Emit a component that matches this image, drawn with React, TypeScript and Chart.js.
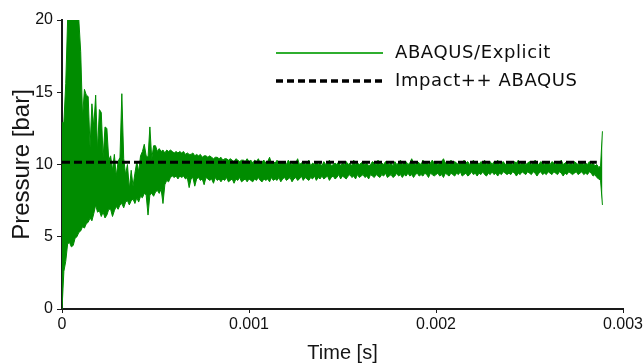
import React, { useEffect, useRef } from 'react';
import { Chart, registerables } from 'chart.js';

Chart.register(...registerables);

// sampling step of the ABAQUS/Explicit signal (s)
const timeStep = 0.00001;

// upper envelope of ABAQUS/Explicit pressure per sample bin [bar]
const explicitUpper = [
  12.9, 12.9, 15.6, 20, 20, 20, 20, 20, 20, 20,
  17.8, 13.3, 15.2, 14.8, 14.7, 11.2, 14.2, 12.6, 14.8, 11.0,
  13.8, 13.6, 10.5, 12.6, 12.5, 10.3, 10.6, 9.6, 10.7, 9.2,
  10.2, 10.5, 14.9, 10.4, 9.3, 10.0, 8.3, 9.6, 8.5, 9.4,
  10.2, 9.5, 10.6, 10.9, 11.4, 10.6, 10.5, 12.6, 10.4, 11.3,
  11.3, 10.9, 11.1, 10.9, 11.0, 10.8, 11.0, 10.9, 11.0, 10.9,
  10.8, 10.9, 10.8, 10.9, 10.8, 10.9, 10.7, 10.8, 10.7, 10.7,
  10.8, 10.6, 10.7, 10.6, 10.7, 10.5, 10.6, 10.6, 10.5, 10.6,
  10.5, 10.4, 10.5, 10.5, 10.4, 10.5, 10.3, 10.4, 10.4, 10.3,
  10.4, 10.3, 10.2, 10.4, 10.3, 10.2, 10.3, 10.3, 10.2, 10.4,
  10.2, 10.3, 10.1, 10.3, 10.2, 10.4, 10.1, 10.2, 10.3, 10.1,
  10.2, 10.5, 10.1, 10.2, 10.1, 10.3, 10.0, 10.2, 10.1, 10.2,
  10.0, 10.3, 10.1, 10.0, 10.2, 10.1, 10.4, 10.0, 10.1, 10.2,
  10.0, 10.1, 10.3, 9.9, 10.1, 10.0, 10.2, 10.0, 10.1, 9.9,
  10.2, 10.0, 10.1, 10.3, 9.9, 10.0, 10.1, 10.0, 10.2, 9.9,
  10.1, 10.0, 10.2, 10.0, 10.1, 9.9, 10.3, 10.0, 10.1, 10.0,
  10.1, 10.2, 10.0, 10.1, 9.9, 10.0, 10.2, 10.1, 10.0, 10.3,
  10.0, 10.1, 10.0, 10.2, 10.1, 10.0, 10.1, 9.9, 10.2, 10.0,
  10.1, 10.3, 10.0, 10.1, 10.2, 10.0, 10.1, 10.4, 10.1, 10.0,
  10.2, 10.1, 10.0, 10.3, 10.1, 10.2, 10.0, 10.1, 10.3, 10.1,
  10.2, 10.0, 10.1, 10.2, 10.4, 10.1, 10.2, 10.0, 10.3, 10.1,
  10.2, 10.1, 10.0, 10.2, 10.1, 10.3, 10.1, 10.2, 10.0, 10.1,
  10.3, 10.1, 10.2, 10.0, 10.2, 10.1, 10.3, 10.0, 10.1, 10.2,
  10.0, 10.2, 10.1, 10.3, 10.0, 10.1, 10.2, 10.0, 10.1, 10.2,
  10.1, 10.0, 10.2, 10.1, 10.3, 10.0, 10.1, 10.2, 10.0, 10.1,
  10.2, 10.0, 10.1, 10.3, 10.1, 10.0, 10.2, 10.1, 10.0, 10.2,
  10.1, 10.0, 10.2, 10.1, 10.0, 10.2, 10.1, 10.3, 10.0, 10.1,
  10.2, 10.0, 10.1, 10.0, 10.2, 10.1, 10.0, 10.1, 10.2, 10.0,
  10.1, 10.0, 10.2, 10.0, 10.1, 9.9, 10.0, 9.8, 9.9, 12.3,
];

// lower envelope of ABAQUS/Explicit pressure per sample bin [bar]
const explicitLower = [
  0, 2.6, 3.3, 4.5, 4.6, 4.3, 4.4, 4.9, 5.0, 5.3,
  5.4, 5.7, 5.6, 5.9, 6.0, 6.3, 6.1, 6.6, 7.2, 6.7,
  6.8, 6.4, 6.7, 6.3, 6.5, 6.9, 6.9, 6.4, 6.8, 7.1,
  6.9, 7.2, 7.3, 7.0, 7.4, 7.5, 7.2, 7.5, 7.6, 7.3,
  7.7, 7.4, 7.8, 7.7, 8.0, 7.9, 6.5, 7.9, 8.0, 7.8,
  8.1, 8.2, 8.0, 8.3, 7.3, 8.6, 8.9, 8.8, 9.1, 9.2,
  9.1, 9.2, 9.0, 9.2, 9.1, 9.2, 9.0, 9.1, 8.4, 9.0,
  9.1, 8.5, 9.0, 9.1, 8.9, 9.0, 8.6, 9.1, 9.0, 8.9,
  9.0, 8.7, 9.1, 8.9, 9.0, 8.8, 9.0, 8.9, 9.1, 8.8,
  8.9, 9.0, 8.7, 9.0, 8.9, 9.1, 8.8, 8.9, 9.0, 8.8,
  9.0, 8.9, 8.8, 9.0, 8.9, 9.1, 8.9, 8.8, 9.0, 8.9,
  9.0, 8.8, 9.1, 8.9, 9.0, 8.9, 9.1, 8.8, 9.0, 9.1,
  8.9, 9.0, 9.1, 8.8, 9.0, 9.1, 8.9, 9.0, 9.2, 8.9,
  9.1, 9.0, 8.9, 9.1, 9.0, 9.2, 8.9, 9.1, 9.0, 9.2,
  9.0, 9.1, 9.2, 8.9, 9.1, 9.2, 9.0, 9.1, 9.3, 9.0,
  9.2, 9.1, 9.0, 9.2, 9.3, 9.1, 9.2, 9.0, 9.3, 9.1,
  9.2, 9.3, 9.1, 9.2, 9.0, 9.3, 9.2, 9.1, 9.3, 9.2,
  9.1, 9.3, 9.2, 9.4, 9.1, 9.2, 9.3, 9.1, 9.2, 9.4,
  9.2, 9.3, 9.1, 9.3, 9.2, 9.4, 9.2, 9.3, 9.1, 9.3,
  9.4, 9.2, 9.3, 9.2, 9.4, 9.3, 9.1, 9.4, 9.3, 9.2,
  9.3, 9.4, 9.2, 9.3, 9.1, 9.4, 9.3, 9.2, 9.4, 9.3,
  9.2, 9.4, 9.3, 9.5, 9.2, 9.3, 9.4, 9.2, 9.3, 9.5,
  9.3, 9.4, 9.2, 9.4, 9.3, 9.5, 9.3, 9.2, 9.4, 9.3,
  9.5, 9.3, 9.4, 9.2, 9.4, 9.3, 9.5, 9.4, 9.3, 9.4,
  9.3, 9.5, 9.4, 9.2, 9.4, 9.3, 9.5, 9.4, 9.3, 9.5,
  9.4, 9.3, 9.5, 9.4, 9.2, 9.4, 9.5, 9.3, 9.4, 9.3,
  9.5, 9.4, 9.3, 9.5, 9.4, 9.3, 9.5, 9.4, 9.2, 9.4,
  9.3, 9.5, 9.4, 9.3, 9.4, 9.5, 9.3, 9.4, 9.5, 9.3,
  9.4, 9.3, 9.5, 9.4, 9.2, 9.3, 9.1, 9.0, 8.9, 7.2,
];

// Impact++ ABAQUS (constant pressure)
const impactTimes = [0, 0.00286];
const impactValues = [10.15, 10.15];

const seriesLabels = ['ABAQUS/Explicit', 'Impact++ ABAQUS'];
const xTickLabels = ['0', '0.001', '0.002', '0.003'];
const yTickLabels = ['0', '5', '10', '15', '20'];
const xTitle = 'Time [s]';
const yTitle = 'Pressure [bar]';

const GREEN = '#008c00';
const LEGEND_GREEN = '#2fae2f';
const AXIS = '#1a1a1a';

const insideLegend = {
  id: 'insideLegend',
  afterDraw(chart: any) {
    const ctx = chart.ctx as CanvasRenderingContext2D;
    const items = [
      { label: seriesLabels[0], color: LEGEND_GREEN, dash: [] as number[], width: 2, y: 53 },
      { label: seriesLabels[1], color: '#000000', dash: [7, 4], width: 3.5, y: 81 },
    ];
    ctx.save();
    items.forEach((it) => {
      ctx.beginPath();
      ctx.setLineDash(it.dash);
      ctx.lineWidth = it.width;
      ctx.strokeStyle = it.color;
      ctx.moveTo(276, it.y);
      ctx.lineTo(383, it.y);
      ctx.stroke();
      ctx.setLineDash([]);
      ctx.font = '18px "DejaVu Sans", sans-serif';
      (ctx as any).letterSpacing = '0.6px';
      ctx.fillStyle = '#0d0d0d';
      ctx.textBaseline = 'middle';
      ctx.textAlign = 'left';
      ctx.fillText(it.label, 395, it.y);
      (ctx as any).letterSpacing = '0px';
    });
    ctx.restore();
  },
};

export default function App() {
  const ref = useRef<HTMLCanvasElement | null>(null);

  useEffect(() => {
    if (!ref.current) return;
    const upperData = explicitUpper.map((v, i) => ({ x: i * timeStep, y: v }));
    const lowerData = explicitLower.map((v, i) => ({ x: i * timeStep, y: v }));
    const impactData = impactTimes.map((t, i) => ({ x: t, y: impactValues[i] }));

    const chart = new Chart(ref.current, {
      type: 'line',
      data: {
        datasets: [
          {
            label: seriesLabels[1],
            data: impactData,
            borderColor: '#000000',
            borderWidth: 3,
            borderDash: [8, 4],
            pointRadius: 0,
            fill: false,
          },
          {
            label: seriesLabels[0],
            data: upperData,
            borderColor: GREEN,
            backgroundColor: GREEN,
            borderWidth: 1,
            pointRadius: 0,
            tension: 0,
            fill: '+1',
          },
          {
            label: seriesLabels[0] + ' (lower)',
            data: lowerData,
            borderColor: GREEN,
            backgroundColor: GREEN,
            borderWidth: 1,
            pointRadius: 0,
            tension: 0,
            fill: false,
          },
        ],
      },
      options: {
        responsive: false,
        animation: false,
        devicePixelRatio: 1,
        layout: { padding: { left: 0, top: 20, right: 21, bottom: 0 } },
        plugins: {
          legend: { display: false },
          tooltip: { enabled: false },
          filler: { propagate: false },
        },
        scales: {
          x: {
            type: 'linear',
            min: 0,
            max: 0.003,
            afterFit: (s: any) => {
              s.height = 54;
              s.paddingLeft = 0;
              s.paddingRight = 0;
            },
            border: { display: true, color: AXIS, width: 2 },
            grid: {
              display: true,
              drawOnChartArea: false,
              drawTicks: true,
              tickLength: 4,
              tickColor: AXIS,
              tickWidth: 1,
            },
            ticks: {
              stepSize: 0.001,
              autoSkip: false,
              maxRotation: 0,
              padding: 2,
              color: '#111111',
              font: { family: '"Liberation Sans", Arial, sans-serif', size: 16 },
              callback: (_v: any, i: number) => xTickLabels[i],
            },
            title: {
              display: true,
              text: xTitle,
              color: '#151515',
              padding: { top: 0, bottom: 0 },
              font: { family: '"Liberation Sans", Arial, sans-serif', size: 20, lineHeight: 1.0 },
            },
          },
          y: {
            type: 'linear',
            min: 0,
            max: 20,
            afterFit: (s: any) => {
              s.width = 62;
              s.paddingTop = 0;
              s.paddingBottom = 0;
            },
            border: { display: true, color: AXIS, width: 2 },
            grid: {
              display: true,
              drawOnChartArea: false,
              drawTicks: true,
              tickLength: 5,
              tickColor: AXIS,
              tickWidth: 1,
            },
            ticks: {
              stepSize: 5,
              padding: 4,
              color: '#111111',
              font: { family: '"Liberation Sans", Arial, sans-serif', size: 16 },
              callback: (_v: any, i: number) => yTickLabels[i],
            },
            title: {
              display: true,
              text: yTitle,
              color: '#151515',
              padding: { top: 8, bottom: 0 },
              font: { family: '"Liberation Sans", Arial, sans-serif', size: 24, lineHeight: 1.2 },
            },
          },
        },
      },
      plugins: [insideLegend],
    } as any);

    return () => chart.destroy();
  }, []);

  return (
    <div style={{ position: 'fixed', left: 0, top: 0, width: 644, height: 363, background: '#ffffff' }}>
      <canvas ref={ref} width={644} height={363} style={{ width: 644, height: 363, display: 'block' }} />
    </div>
  );
}
